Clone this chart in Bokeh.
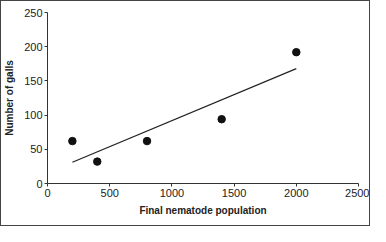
from bokeh.plotting import figure
from bokeh.embed import file_html
from bokeh.resources import INLINE
from bokeh.models import FixedTicker, Range1d

# data
population = [200, 400, 800, 1400, 2000]
galls = [62, 32, 62, 94, 192]
trend_x = [200, 2000]
trend_y = [31, 168]
x_ticks = [0, 500, 1000, 1500, 2000, 2500]
y_ticks = [0, 50, 100, 150, 200, 250]

FONT = "Liberation Sans"

p = figure(width=370, height=226, output_backend="svg", toolbar_location=None,
           x_range=Range1d(0, 2500), y_range=Range1d(0, 250),
           min_border_left=44, min_border_right=13, min_border_top=11, min_border_bottom=44)
p.styles = {"border": "1px solid #444"}
p.outline_line_color = None
p.xgrid.visible = False
p.ygrid.visible = False
p.background_fill_color = "white"
p.border_fill_color = "white"

p.line(trend_x, trend_y, line_color="#222222", line_width=1.2)
p.scatter(population, galls, size=7.5, fill_color="#111111", line_color="#111111")

for ax, ticks in ((p.xaxis, x_ticks), (p.yaxis, y_ticks)):
    ax.ticker = FixedTicker(ticks=ticks)
    ax.axis_line_color = "#333333"
    ax.major_tick_line_color = "#333333"
    ax.minor_tick_line_color = None
    ax.major_tick_out = 3
    ax.major_tick_in = 0
    ax.major_label_text_font = FONT
    ax.major_label_text_font_size = "11px"
    ax.major_label_text_color = "#222222"
    ax.axis_label_text_font = FONT
    ax.axis_label_text_font_size = "10px"
    ax.axis_label_text_font_style = "bold"
    ax.axis_label_text_color = "#222222"

p.xaxis.axis_label = "Final nematode population"
p.yaxis.axis_label = "Number of galls"
p.xaxis.major_label_standoff = 2
p.yaxis.major_label_standoff = 2
p.xaxis.axis_label_standoff = 5
p.yaxis.axis_label_standoff = 6

open("out.html", "w").write(file_html(p, INLINE))
